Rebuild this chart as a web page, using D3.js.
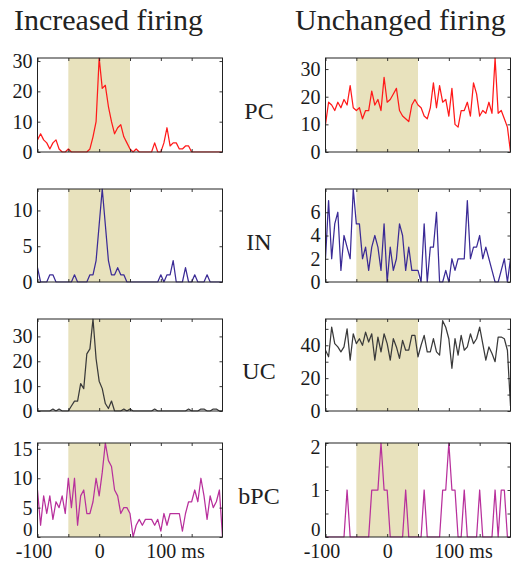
<!DOCTYPE html>
<html><head><meta charset="utf-8">
<script src="https://cdn.jsdelivr.net/npm/d3@7"></script>
<style>
body{margin:0;background:#fff}
svg{display:block}
</style>
</head><body>
<svg id="c" width="511" height="563"></svg>
<script>
// ---------------- DATA ----------------
const timeBins = [-100,-95,-90,-85,-80,-75,-70,-65,-60,-55,-50,-45,-40,-35,-30,-25,-20,-15,-10,-5,
  0,5,10,15,20,25,30,35,40,45,50,55,60,65,70,75,80,85,90,95,
  100,105,110,115,120,125,130,135,140,145,150,155,160,165,170,175,180,185,190,195,200];

const columnTitles = ["Increased firing", "Unchanged firing"];
const cellTypes = ["PC", "IN", "UC", "bPC"];

// Increased firing column
const incPC  = [4,6,4,3,1,3,4,1,0,0, 1,0,0,0,0,0,0,1,5,10, 31,21,22,15,10,6,8,9,5,3, 1,0,1,0,0,0,0,0,3,0, 0,3,8,2,3,3,1,1,2,2, 0,0,0,0,0,0,0,0,0,0, 0];
const incIN  = [2,0,0,0,1,1,0,0,0,0, 0,0,1,0,0,0,0,1,1,3, 8,13,8,3,1,1,2,1,1,0, 0,0,0,0,0,0,0,0,0,0, 1,0,1,1,3,0,0,0,2,0, 0,1,0,0,0,1,0,0,0,0, 0];
const incUC  = [0,0,0,0,0,0.8,0,0.8,0,0, 0,2,4,4,11,9,23,25,37,21, 12,9,3,1,4,0,0,0,0.8,0, 0.8,0,0,0,0,0,0,0,0.8,0, 0,0,0,0,0,0,0,0,0,0.8, 0,0,0,0.8,0.8,0,0,0.8,0.8,0, 0];
const incBPC = [8,2,7,4,7,3,6,5,7,4, 10,5,10,2,7,8,4,4,6,10, 7,11,16,13,12,8,7,4,5,5, 4,0,2,3,2,3,3,3,2,3, 1,4,2,4,4,4,4,1,4,6, 6,8,6,10,7,3,7,5,6,8, 0];

// Unchanged firing column
const uncPC  = [10,18,17,15,18,16,19,17,24,16, 15,16,12,15,15,22,17,19,15,27, 18,19,21,23,15,13,12,11,17,19, 17,16,13,12,16,25,16,24,18,19, 13,23,10,9,15,15,18,13,25,21, 13,15,14,18,14,34,14,15,12,9, 0];
const uncIN  = [2,7,2,5,6,1,4,3,2,8, 5,5,2,3,1,3,4,3,1,5, 0,3,1,2,5,4,1,3,1,1, 1,0,5,0,3,3,6,0,0,1, 0,2,1,2,2,2,7,2,3,3, 4,2,3,2,1,0,0,1,2,0, 2];
const uncUC  = [37,33,51,41,39,36,39,50,31,47, 41,44,40,48,42,47,31,45,36,47, 41,31,44,39,32,43,37,37,46,46, 33,40,46,36,36,44,36,34,55,51, 44,26,44,34,46,37,39,47,41,44, 51,41,31,39,35,30,45,45,44,37, 3];
const uncBPC = [0,0,0,0,0,0,0,1,0,0, 0,0,0,0,0,1,1,1,2,1, 1,0,0,0,0,0,1,0,0,0, 0,0,1,0,0,0,0,0,1,1, 2,1,1,0,0,1,0,0,0,0, 1,0,0,0,0,1,0,1,1,0, 0];

// y-axis extents and ticks
const incYMax = [31, 13, 37, 16];
const uncYMax = [34, 8, 56, 2];
const incYTicks = [[0,10,20,30],[0,5,10],[0,10,20,30],[0,5,10,15]];
const uncYTicks = [[0,10,20,30],[0,2,4,6],[0,10,20,30,40,50],[0,0.5,1,1.5,2]];
const incYLabels = [[0,10,20,30],[0,5,10],[0,10,20,30],[0,5,10,15]];
const uncYLabels = [[0,10,20,30],[0,2,4,6],[0,20,40],[0,1,2]];

const xTicks = [-100,-50,0,50,100,150];
const xLabels = [-100,0,100];
const stimWindow = [-50, 50];

const seriesColors = ["#ff1a1a", "#3b2b96", "#3a3a3a", "#b8309c"];

// ---------------- LAYOUT ----------------
const svg = d3.select("#c");
const FONT = "'Liberation Serif','Times New Roman',serif";
const rowsY = [[58,152],[189,282],[319,411],[443,537]];
const colsX = [[37.5,222.5],[325.5,510.5]];

const incData = [incPC, incIN, incUC, incBPC];
const uncData = [uncPC, uncIN, uncUC, uncBPC];

function drawPanel(idx, col, row, values, yMax, yTicks, yLabels, color, showX) {
  const [x0, x1] = colsX[col];
  const [y0, y1] = rowsY[row];
  const x = d3.scaleLinear().domain([-100, 200]).range([x0, x1]);
  const y = d3.scaleLinear().domain([0, yMax]).range([y1, y0]);
  const g = svg.append("g");

  const cid = "clip" + idx;
  svg.append("clipPath").attr("id", cid).append("rect")
    .attr("x", x0).attr("y", y0 - 0.5).attr("width", x1 - x0).attr("height", y1 - y0 + 1);

  // stimulus window shading
  g.append("rect")
    .attr("x", x(stimWindow[0])).attr("y", y0)
    .attr("width", x(stimWindow[1]) - x(stimWindow[0])).attr("height", y1 - y0)
    .attr("fill", "#e8e2bd");

  // data line
  const line = d3.line().x((d, i) => x(timeBins[i])).y(d => y(d));
  g.append("path").datum(values)
    .attr("clip-path", `url(#${cid})`)
    .attr("fill", "none").attr("stroke", color).attr("stroke-width", 1.25)
    .attr("stroke-linejoin", "round")
    .attr("d", line);

  // axes (inward ticks on all four sides)
  const fmtX = d => (showX && xLabels.includes(d)) ? (d === 100 ? "100 ms" : String(d)) : "";
  const fmtY = d => yLabels.includes(d) ? String(d) : "";

  const ax = [
    g.append("g").attr("transform", `translate(0,${y1})`)
      .call(d3.axisBottom(x).tickValues(xTicks).tickSizeInner(-3).tickSizeOuter(0).tickPadding(7).tickFormat(fmtX)),
    g.append("g").attr("transform", `translate(0,${y0})`)
      .call(d3.axisTop(x).tickValues(xTicks).tickSizeInner(-3).tickSizeOuter(0).tickFormat("")),
    g.append("g").attr("transform", `translate(${x0},0)`)
      .call(d3.axisLeft(y).tickValues(yTicks).tickSizeInner(-3).tickSizeOuter(0).tickPadding(5).tickFormat(fmtY)),
    g.append("g").attr("transform", `translate(${x1},0)`)
      .call(d3.axisRight(y).tickValues(yTicks).tickSizeInner(-3).tickSizeOuter(0).tickFormat(""))
  ];
  ax.forEach(a => {
    a.select(".domain").remove();
    a.selectAll("line").attr("stroke", "#222").attr("stroke-width", 0.9);
    a.selectAll("text").attr("font-family", FONT).attr("font-size", 20).attr("fill", "#1a1a1a");
  });
  // "100 ms": centre the number on the tick; nudge "-100"
  ax[0].selectAll(".tick text").filter(d => d === 100 && showX).each(function () {
    const t = d3.select(this);
    t.text("100");
    const w = this.getComputedTextLength();
    t.text("100 ms").attr("text-anchor", "start").attr("x", -w / 2);
  });
  ax[0].selectAll(".tick text").filter(d => d === -100).attr("x", -4);
  // keep extreme y labels inside the box height on the bottom row
  if (showX) {
    ax[2].selectAll(".tick text").filter(d => d === 0).attr("y", -7.5).attr("font-size", 19);
    ax[2].selectAll(".tick text").filter(d => d === yMax && yMax <= 2).attr("y", 4);
  }

  // box
  g.append("rect").attr("x", x0).attr("y", y0).attr("width", x1 - x0).attr("height", y1 - y0)
    .attr("fill", "none").attr("stroke", "#222").attr("stroke-width", 1);
}

for (let r = 0; r < 4; r++) {
  drawPanel(r, 0, r, incData[r], incYMax[r], incYTicks[r], incYLabels[r], seriesColors[r], r === 3);
  drawPanel(r + 4, 1, r, uncData[r], uncYMax[r], uncYTicks[r], uncYLabels[r], seriesColors[r], r === 3);
}

// column titles
svg.append("text").attr("x", 14).attr("y", 30).text(columnTitles[0])
  .attr("font-family", FONT).attr("font-size", 30).attr("fill", "#222");
svg.append("text").attr("x", 295).attr("y", 30).text(columnTitles[1])
  .attr("font-family", FONT).attr("font-size", 30).attr("fill", "#222");

// row labels
cellTypes.forEach((c, r) => {
  const [y0, y1] = rowsY[r];
  svg.append("text").attr("x", 259).attr("y", (y0 + y1) / 2 + 14)
    .attr("text-anchor", "middle").text(c)
    .attr("font-family", FONT).attr("font-size", 24).attr("fill", "#222");
});
</script>
</body></html>
